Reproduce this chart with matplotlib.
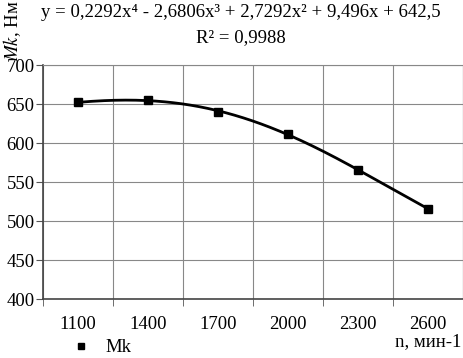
import numpy as np
import matplotlib
matplotlib.use("Agg")
import matplotlib.pyplot as plt

plt.rcParams['font.family'] = ['Liberation Serif', 'DejaVu Serif']
plt.rcParams['mathtext.fontset'] = 'stix'

categories = ["1100", "1400", "1700", "2000", "2300", "2600"]
mk_values = [652, 655, 640, 612, 565, 516]
y_ticks = [400, 450, 500, 550, 600, 650, 700]

x = np.arange(1, len(categories) + 1)

# 4th degree trendline, as in the spreadsheet
coef = np.polyfit(x, mk_values, 4)
xs = np.linspace(1, len(categories), 200)
ys = np.polyval(coef, xs)

fig = plt.figure(figsize=(4.64, 3.58), dpi=100)
ax = fig.add_axes([0.0927, 0.1648, 0.905, 0.6536])

ax.plot(xs, ys, color="black", lw=2, zorder=3)
ax.plot(x, mk_values, ls="none", marker="s", ms=6, color="black", zorder=4, label="Mk")

ax.set_xlim(0.5, len(categories) + 0.5)
ax.set_ylim(400, 700)
ax.set_yticks(y_ticks)
ax.set_xticks(x)
ax.set_xticklabels(categories)
ax.set_xticks(np.arange(0.5, len(categories) + 1, 1), minor=True)

ax.tick_params(axis="x", which="major", length=0, pad=12, labelsize=13.5)
ax.tick_params(axis="x", which="minor", length=5, color="#555555")
ax.tick_params(axis="y", length=5, color="#555555", labelsize=13.5, pad=1)
ax.grid(True, which="minor", axis="x", color="#888888", lw=0.8)
ax.grid(True, which="major", axis="y", color="#888888", lw=0.8)
ax.set_axisbelow(True)

for side in ["left", "bottom"]:
    ax.spines[side].set_color("#444444")
    ax.spines[side].set_linewidth(1.2)
ax.spines["top"].set_color("#888888")
ax.spines["right"].set_color("#888888")
ax.spines["top"].set_linewidth(0.8)
ax.spines["right"].set_linewidth(0.8)

fig.text(0.52, 0.99, "y = 0,2292x⁴ - 2,6806x³ + 2,7292x² + 9,496x + 642,5",
         ha="center", va="top", fontsize=13.5)
fig.text(0.52, 0.918, "R² = 0,9988", ha="center", va="top", fontsize=13.5)

fig.text(0.025, 1.0, "$\\mathit{Mk}$, Нм", rotation=90, ha="center", va="top", fontsize=13.5)
fig.text(0.995, 0.045, "n, мин-1", ha="right", va="center", fontsize=13.5)

ax.legend(loc="upper left", bbox_to_anchor=(0.05, -0.14), frameon=False,
          fontsize=13.5, handlelength=1, handletextpad=0.8, borderaxespad=0,
          markerscale=0.8)

fig.savefig("out.png", dpi=100)
